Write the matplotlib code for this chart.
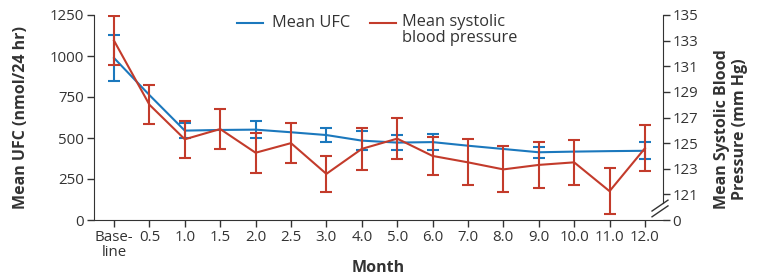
import matplotlib
matplotlib.use("Agg")
import matplotlib.pyplot as plt
import numpy as np
from matplotlib.lines import Line2D

plt.rcParams['font.family'] = ['Open Sans', 'DejaVu Sans']

months = ["Base-\nline", "0.5", "1.0", "1.5", "2.0", "2.5", "3.0", "4.0", "5.0",
          "6.0", "7.0", "8.0", "9.0", "10.0", "11.0", "12.0"]
ufc_mean = [988, 762, 545, 549, 551, 535, 518, 484, 472, 475, 453, 433, 413, 417, 420, 422]
ufc_err = [138, np.nan, 46, np.nan, 52, np.nan, 44, 59, 47, 50, np.nan, np.nan, 33, np.nan, np.nan, 53]
sbp_mean = [133.0, 128.0, 125.3, 126.1, 124.25, 125.0, 122.6, 124.55, 125.35,
            124.0, 123.5, 122.95, 123.3, 123.5, 121.25, 124.6]
sbp_err = [1.9, 1.5, 1.45, 1.55, 1.55, 1.55, 1.4, 1.65, 1.6, 1.45, 1.8, 1.8, 1.8, 1.75, 1.8, 1.8]
left_ticks = [0, 250, 500, 750, 1000, 1250]
right_ticks = [119, 121, 123, 125, 127, 129, 131, 133, 135]
right_labels = ["0", "121", "123", "125", "127", "129", "131", "133", "135"]

blue = "#1b78bd"
red = "#c33b2b"
txt = "#333333"
fs = 10.8

fig = plt.figure(figsize=(7.6, 2.79), dpi=100)
ax = fig.add_axes([94/760, 59/279, (663-94)/760, (220-15)/279])
ax2 = ax.twinx()

x = np.arange(len(months))
ax.errorbar(x, ufc_mean, yerr=ufc_err, color=blue, lw=1.5, capsize=4, capthick=1.5,
            elinewidth=1.5)
ax2.errorbar(x, sbp_mean, yerr=sbp_err, color=red, lw=1.5, capsize=4, capthick=1.5,
             elinewidth=1.5)

ax.set_xlim(-0.565, 15.51)
ax.set_ylim(0, 1250)
ax2.set_ylim(119, 135)
ax.set_xticks(x)
ax.set_xticklabels(months, fontsize=fs, color=txt, linespacing=1.0)
ax.set_yticks(left_ticks)
ax.set_yticklabels([str(t) for t in left_ticks], fontsize=fs, color=txt)
ax2.set_yticks(right_ticks)
ax2.set_yticklabels(right_labels, fontsize=fs, color=txt)

for a in (ax, ax2):
    a.spines['top'].set_visible(False)
    a.tick_params(direction='out', length=5, width=1, color=txt, pad=2)
ax.spines['right'].set_visible(False)
ax2.spines['left'].set_visible(False)
ax2.spines['bottom'].set_visible(False)
ax2.spines['right'].set_bounds(120.3, 135)
ax.spines['left'].set_color(txt)
ax.spines['bottom'].set_color(txt)
ax2.spines['right'].set_color(txt)

# axis break marks on right spine
for dy in (0.0, 0.45):
    ax2.plot([15.2, 15.65], [119.25 + dy, 120.1 + dy], color=txt, lw=1,
             clip_on=False)

ax.set_xlabel("Month", fontsize=11.5, fontweight='bold', color=txt)
ax.xaxis.set_label_coords(0.5, -(268 - 220) / 205, transform=ax.transAxes)
ax.xaxis.label.set_va('center')
ax.set_ylabel("Mean UFC (nmol/24 hr)", fontsize=11.5, fontweight='bold', color=txt)
ax.yaxis.set_label_coords((21 - 94) / 569, 0.5)
ax.yaxis.label.set_va('center')
fig.text(731/760, 0.5 + 10/279, "Mean Systolic Blood\nPressure (mm Hg)", fontsize=11.5,
         fontweight='bold', color=txt, rotation=90, ha='center', va='center',
         multialignment='center', linespacing=1.1)

# legend (manual)
ly = 1 - 23/279
fig.add_artist(Line2D([237/760, 263/760], [ly, ly], color=blue, lw=1.5))
fig.text(272/760, ly, "Mean UFC", fontsize=11.8, color=txt, va='center', ha='left')
fig.add_artist(Line2D([370/760, 396/760], [ly, ly], color=red, lw=1.5))
fig.text(402/760, ly + 9/279, "Mean systolic\nblood pressure", fontsize=11.8, color=txt,
         va='top', ha='left', linespacing=1.0)

fig.savefig("out.png", dpi=100)
